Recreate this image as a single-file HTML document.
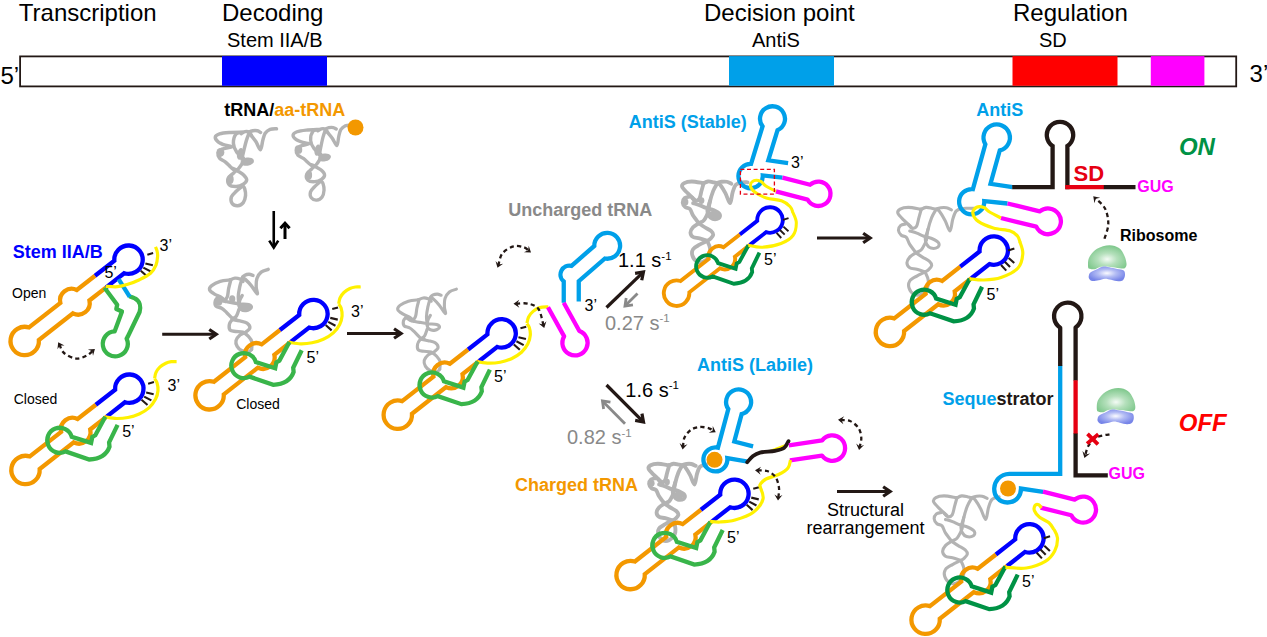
<!DOCTYPE html><html><head><meta charset="utf-8"><style>html,body{margin:0;padding:0;background:#fff}svg{display:block}</style></head><body><svg width="1267" height="637" viewBox="0 0 1267 637" font-family="Liberation Sans, sans-serif">
<rect width="1267" height="637" fill="#fff"/>
<rect x="20.1" y="56.4" width="1216.1" height="30" fill="#fff" stroke="#231815" stroke-width="1.8"/>
<rect x="222" y="56.1" width="105" height="29.7" fill="#0000ff"/>
<rect x="729" y="56.1" width="105" height="29.7" fill="#00a0e9"/>
<rect x="1012.5" y="56.1" width="105" height="29.7" fill="#ff0000"/>
<rect x="1150.8" y="56.1" width="53.6" height="29.7" fill="#ff00ff"/>
<text x="18.8" y="21.2" font-size="24" fill="#000" font-weight="normal" font-style="normal" text-anchor="start" >Transcription</text>
<text x="222" y="21" font-size="24" fill="#000" font-weight="normal" font-style="normal" text-anchor="start" >Decoding</text>
<text x="227" y="47" font-size="20" fill="#000" font-weight="normal" font-style="normal" text-anchor="start" >Stem IIA/B</text>
<text x="704" y="21" font-size="24" fill="#000" font-weight="normal" font-style="normal" text-anchor="start" >Decision point</text>
<text x="752" y="47" font-size="20" fill="#000" font-weight="normal" font-style="normal" text-anchor="start" >AntiS</text>
<text x="1013" y="21" font-size="24" fill="#000" font-weight="normal" font-style="normal" text-anchor="start" >Regulation</text>
<text x="1039" y="47" font-size="20" fill="#000" font-weight="normal" font-style="normal" text-anchor="start" >SD</text>
<text x="0.5" y="84" font-size="24" fill="#000" font-weight="normal" font-style="normal" text-anchor="start" >5’</text>
<text x="1249.6" y="82.3" font-size="24" fill="#000" font-weight="normal" font-style="normal" text-anchor="start" >3’</text>
<g transform="translate(276.5 128.8) rotate(0) scale(1) translate(-68.55 -6.78)">
<g fill="none" stroke="#b3b3b3" stroke-width="3.5" stroke-linecap="round" stroke-linejoin="round">
<path d="M68.55 6.78 C67.49 6.88 64.08 6.6 62.19 7.35 C60.31 8.1 58.47 9.47 57.24 11.31 C56.02 13.14 55.62 15.64 54.84 18.37 C54.06 21.11 53.71 27.47 52.58 27.7 C51.45 27.94 49.56 22.1 48.06 19.79 C46.55 17.48 44.71 15.36 43.53 13.85 C42.36 12.34 40.75 11.59 40.99 10.74 C41.22 9.89 43.53 9.09 44.95 8.76 C46.36 8.43 48.2 8.48 49.47 8.76 C50.74 9.05 52.06 10.18 52.58 10.46"/>
<path d="M41.27 10.74 C40.8 12.01 39.34 15.45 38.45 18.37 C37.55 21.3 36.65 25.16 35.9 28.27 C35.15 31.38 34.25 35.57 33.92 37.03"/>
<path d="M33.36 11.59 C33.97 11.26 35.71 9.85 37.03 9.61 C38.35 9.38 40.19 9.52 41.27 10.18 C42.36 10.84 43.16 13 43.53 13.57"/>
<path d="M34.77 10.46 C33.69 10.69 29.82 10.08 28.27 11.87 C26.71 13.66 25.35 18.14 25.44 21.2 C25.54 24.26 27.14 27.75 28.83 30.25 C30.53 32.74 34.49 35.19 35.62 36.18"/>
<path d="M34.77 10.18 C32.51 10.22 25.06 10.18 21.2 10.46 C17.34 10.74 13.9 11.12 11.59 11.87 C9.28 12.63 7.59 13.66 7.35 14.98 C7.11 16.3 8.53 18.42 10.18 19.79 C11.83 21.15 14.98 22.33 17.24 23.18 C19.51 24.03 24.26 24.22 23.75 24.88 C23.23 25.54 16.4 26.1 14.13 27.14 C11.87 28.17 10.6 29.59 10.18 31.1 C9.75 32.6 10.41 34.72 11.59 36.18 C12.77 37.64 15.41 38.4 17.24 39.86 C19.08 41.32 20.97 43.44 22.61 44.95 C24.26 46.45 26.38 48.24 27.14 48.9"/>
<path d="M34.49 41.27 C33.83 42.17 32.04 44.99 30.53 46.64 C29.02 48.29 27.18 49.52 25.44 51.17 C23.7 52.82 20.78 54.61 20.07 56.54 C19.36 58.47 19.84 61.44 21.2 62.76 C22.57 64.08 25.91 64.55 28.27 64.45 C30.62 64.36 33.59 63.27 35.34 62.19 C37.08 61.11 38.63 59.46 38.73 57.95 C38.82 56.44 37.27 54.56 35.9 53.14 C34.53 51.73 32.23 50.55 30.53 49.47 C28.83 48.39 26.53 47.11 25.72 46.64"/>
<path d="M34.77 63.89 C33.69 64.78 30.15 67.42 28.27 69.26 C26.38 71.1 24.17 72.93 23.46 74.91 C22.76 76.89 22.99 79.67 24.03 81.13 C25.06 82.59 27.8 83.77 29.68 83.67 C31.57 83.58 34.02 82.26 35.34 80.57 C36.65 78.87 37.36 75.81 37.6 73.5 C37.83 71.19 37.22 68.32 36.75 66.71 C36.28 65.11 35.1 64.36 34.77 63.89"/>
</g>
<ellipse cx="39.29" cy="39.58" rx="6.78" ry="4.1" fill="#b3b3b3" transform="rotate(-8 39.29 39.58)"/>
<ellipse cx="22.61" cy="57.24" rx="3.11" ry="4.81" fill="#b3b3b3"/>
<ellipse cx="12.44" cy="30.39" rx="3.96" ry="4.52" fill="#b3b3b3"/>
<ellipse cx="32.23" cy="31.8" rx="3.11" ry="5.94" fill="#b3b3b3" transform="rotate(12 32.23 31.8)"/>
</g>
<g transform="translate(351.5 125) rotate(-2) scale(0.96) translate(-68.55 -6.78)">
<g fill="none" stroke="#b3b3b3" stroke-width="3.5" stroke-linecap="round" stroke-linejoin="round">
<path d="M68.55 6.78 C67.49 6.88 64.08 6.6 62.19 7.35 C60.31 8.1 58.47 9.47 57.24 11.31 C56.02 13.14 55.62 15.64 54.84 18.37 C54.06 21.11 53.71 27.47 52.58 27.7 C51.45 27.94 49.56 22.1 48.06 19.79 C46.55 17.48 44.71 15.36 43.53 13.85 C42.36 12.34 40.75 11.59 40.99 10.74 C41.22 9.89 43.53 9.09 44.95 8.76 C46.36 8.43 48.2 8.48 49.47 8.76 C50.74 9.05 52.06 10.18 52.58 10.46"/>
<path d="M41.27 10.74 C40.8 12.01 39.34 15.45 38.45 18.37 C37.55 21.3 36.65 25.16 35.9 28.27 C35.15 31.38 34.25 35.57 33.92 37.03"/>
<path d="M33.36 11.59 C33.97 11.26 35.71 9.85 37.03 9.61 C38.35 9.38 40.19 9.52 41.27 10.18 C42.36 10.84 43.16 13 43.53 13.57"/>
<path d="M34.77 10.46 C33.69 10.69 29.82 10.08 28.27 11.87 C26.71 13.66 25.35 18.14 25.44 21.2 C25.54 24.26 27.14 27.75 28.83 30.25 C30.53 32.74 34.49 35.19 35.62 36.18"/>
<path d="M34.77 10.18 C32.51 10.22 25.06 10.18 21.2 10.46 C17.34 10.74 13.9 11.12 11.59 11.87 C9.28 12.63 7.59 13.66 7.35 14.98 C7.11 16.3 8.53 18.42 10.18 19.79 C11.83 21.15 14.98 22.33 17.24 23.18 C19.51 24.03 24.26 24.22 23.75 24.88 C23.23 25.54 16.4 26.1 14.13 27.14 C11.87 28.17 10.6 29.59 10.18 31.1 C9.75 32.6 10.41 34.72 11.59 36.18 C12.77 37.64 15.41 38.4 17.24 39.86 C19.08 41.32 20.97 43.44 22.61 44.95 C24.26 46.45 26.38 48.24 27.14 48.9"/>
<path d="M34.49 41.27 C33.83 42.17 32.04 44.99 30.53 46.64 C29.02 48.29 27.18 49.52 25.44 51.17 C23.7 52.82 20.78 54.61 20.07 56.54 C19.36 58.47 19.84 61.44 21.2 62.76 C22.57 64.08 25.91 64.55 28.27 64.45 C30.62 64.36 33.59 63.27 35.34 62.19 C37.08 61.11 38.63 59.46 38.73 57.95 C38.82 56.44 37.27 54.56 35.9 53.14 C34.53 51.73 32.23 50.55 30.53 49.47 C28.83 48.39 26.53 47.11 25.72 46.64"/>
<path d="M34.77 63.89 C33.69 64.78 30.15 67.42 28.27 69.26 C26.38 71.1 24.17 72.93 23.46 74.91 C22.76 76.89 22.99 79.67 24.03 81.13 C25.06 82.59 27.8 83.77 29.68 83.67 C31.57 83.58 34.02 82.26 35.34 80.57 C36.65 78.87 37.36 75.81 37.6 73.5 C37.83 71.19 37.22 68.32 36.75 66.71 C36.28 65.11 35.1 64.36 34.77 63.89"/>
</g>
<ellipse cx="39.29" cy="39.58" rx="6.78" ry="4.1" fill="#b3b3b3" transform="rotate(-8 39.29 39.58)"/>
<ellipse cx="22.61" cy="57.24" rx="3.11" ry="4.81" fill="#b3b3b3"/>
<ellipse cx="12.44" cy="30.39" rx="3.96" ry="4.52" fill="#b3b3b3"/>
<ellipse cx="32.23" cy="31.8" rx="3.11" ry="5.94" fill="#b3b3b3" transform="rotate(12 32.23 31.8)"/>
</g>
<circle cx="355.5" cy="127.5" r="8" fill="#f39800"/>
<g transform="translate(257.2 293.8) rotate(0) scale(1) translate(-55.37 -33.62)">
<g fill="none" stroke="#b3b3b3" stroke-width="3.4" stroke-linecap="round" stroke-linejoin="round">
<path d="M66.38 9.18 C65.21 9.65 61.21 10.48 59.32 12.01 C57.44 13.54 55.91 15.89 55.08 18.36 C54.26 20.83 54.33 24.29 54.38 26.84 C54.43 29.38 56.19 33.85 55.37 33.62 C54.54 33.38 51.41 27.82 49.44 25.42 C47.46 23.02 44.99 20.53 43.5 19.21 C42.02 17.89 40.61 18.22 40.54 17.51 C40.47 16.81 41.95 15.54 43.08 14.97 C44.21 14.41 45.97 14.08 47.32 14.12 C48.66 14.17 50.49 15.07 51.13 15.25"/>
<path d="M40.54 17.51 C40.09 19.07 38.54 23.63 37.85 26.84 C37.17 30.04 36.51 33.66 36.44 36.72 C36.37 39.78 37.26 43.79 37.43 45.2"/>
<path d="M28.25 19.77 C29.07 19.47 31.54 18.1 33.19 17.94 C34.84 17.77 36.79 18.24 38.14 18.79 C39.48 19.33 40.73 20.79 41.24 21.19"/>
<path d="M28.95 19.77 C28.6 21.19 27.42 25.42 26.84 28.25 C26.25 31.07 26.32 34.6 25.42 36.72 C24.53 38.84 22.88 40.73 21.47 40.96 C20.06 41.2 17.7 38.61 16.95 38.14"/>
<path d="M28.53 19.77 C26.84 20.01 21.47 20.24 18.36 21.19 C15.25 22.13 11.65 24.01 9.89 25.42 C8.12 26.84 7.3 28.25 7.77 29.66 C8.24 31.07 10.71 32.6 12.71 33.9 C14.71 35.19 17.94 36.21 19.77 37.43 C21.61 38.65 23.07 40.61 23.73 41.24"/>
<path d="M16.24 36.72 C15.77 37.43 13.77 39.43 13.42 40.96 C13.06 42.49 13.06 44.73 14.12 45.9 C15.18 47.08 18.01 46.96 19.77 48.02 C21.54 49.08 22.95 50.61 24.72 52.26 C26.48 53.91 28.79 56.73 30.37 57.91 C31.94 59.09 33.55 59.09 34.18 59.32"/>
<path d="M22.6 40.96 C23.78 41.2 27.07 41.9 29.66 42.37 C32.25 42.84 35.31 43.43 38.14 43.79 C40.96 44.14 44.73 43.9 46.61 44.49 C48.49 45.08 49.67 46.37 49.44 47.32 C49.2 48.26 46.85 49.79 45.2 50.14 C43.55 50.49 40.91 50.26 39.55 49.44 C38.18 48.61 37.24 46.85 37.01 45.2 C36.77 43.55 37.57 41.2 38.14 39.55 C38.7 37.9 40.02 36.02 40.4 35.31"/>
<path d="M37.01 49.44 C36.61 50.49 35.71 54.14 34.6 55.79 C33.5 57.44 31.54 57.91 30.37 59.32 C29.19 60.73 27.9 62.5 27.54 64.27 C27.19 66.03 27.19 68.74 28.25 69.92 C29.31 71.09 31.78 70.97 33.9 71.33 C36.02 71.68 38.84 71.21 40.96 72.03 C43.08 72.86 45.08 74.62 46.61 76.27 C48.14 77.92 49.62 79.76 50.14 81.92 C50.66 84.09 49.79 88.04 49.72 89.27"/>
<path d="M30.37 59.32 C31.66 59.56 35.66 60.15 38.14 60.73 C40.61 61.32 43.55 61.68 45.2 62.85 C46.85 64.03 48.26 66.27 48.02 67.8 C47.79 69.33 45.43 70.86 43.79 72.03 C42.14 73.21 39.74 73.45 38.14 74.86 C36.53 76.27 34.65 78.63 34.18 80.51 C33.71 82.39 34.37 84.51 35.31 86.16 C36.25 87.81 37.95 89.45 39.83 90.4 C41.71 91.34 44.96 92 46.61 91.81 C48.26 91.62 49.2 89.69 49.72 89.27"/>
</g>
<ellipse cx="43.5" cy="47.18" rx="7.06" ry="4.24" fill="#b3b3b3" transform="rotate(-5 43.5 47.18)"/>
<ellipse cx="16.67" cy="41.38" rx="3.95" ry="4.24" fill="#b3b3b3"/>
<ellipse cx="30.37" cy="38.84" rx="3.11" ry="3.67" fill="#b3b3b3"/>
</g>
<g transform="translate(445.4 313.6) rotate(0) scale(1) translate(-55.37 -33.62)">
<g fill="none" stroke="#b3b3b3" stroke-width="3.1" stroke-linecap="round" stroke-linejoin="round">
<path d="M66.38 9.18 C65.21 9.65 61.21 10.48 59.32 12.01 C57.44 13.54 55.91 15.89 55.08 18.36 C54.26 20.83 54.33 24.29 54.38 26.84 C54.43 29.38 56.19 33.85 55.37 33.62 C54.54 33.38 51.41 27.82 49.44 25.42 C47.46 23.02 44.99 20.53 43.5 19.21 C42.02 17.89 40.61 18.22 40.54 17.51 C40.47 16.81 41.95 15.54 43.08 14.97 C44.21 14.41 45.97 14.08 47.32 14.12 C48.66 14.17 50.49 15.07 51.13 15.25"/>
<path d="M40.54 17.51 C40.09 19.07 38.54 23.63 37.85 26.84 C37.17 30.04 36.51 33.66 36.44 36.72 C36.37 39.78 37.26 43.79 37.43 45.2"/>
<path d="M28.25 19.77 C29.07 19.47 31.54 18.1 33.19 17.94 C34.84 17.77 36.79 18.24 38.14 18.79 C39.48 19.33 40.73 20.79 41.24 21.19"/>
<path d="M28.95 19.77 C28.6 21.19 27.42 25.42 26.84 28.25 C26.25 31.07 26.32 34.6 25.42 36.72 C24.53 38.84 22.88 40.73 21.47 40.96 C20.06 41.2 17.7 38.61 16.95 38.14"/>
<path d="M28.53 19.77 C26.84 20.01 21.47 20.24 18.36 21.19 C15.25 22.13 11.65 24.01 9.89 25.42 C8.12 26.84 7.3 28.25 7.77 29.66 C8.24 31.07 10.71 32.6 12.71 33.9 C14.71 35.19 17.94 36.21 19.77 37.43 C21.61 38.65 23.07 40.61 23.73 41.24"/>
<path d="M16.24 36.72 C15.77 37.43 13.77 39.43 13.42 40.96 C13.06 42.49 13.06 44.73 14.12 45.9 C15.18 47.08 18.01 46.96 19.77 48.02 C21.54 49.08 22.95 50.61 24.72 52.26 C26.48 53.91 28.79 56.73 30.37 57.91 C31.94 59.09 33.55 59.09 34.18 59.32"/>
<path d="M22.6 40.96 C23.78 41.2 27.07 41.9 29.66 42.37 C32.25 42.84 35.31 43.43 38.14 43.79 C40.96 44.14 44.73 43.9 46.61 44.49 C48.49 45.08 49.67 46.37 49.44 47.32 C49.2 48.26 46.85 49.79 45.2 50.14 C43.55 50.49 40.91 50.26 39.55 49.44 C38.18 48.61 37.24 46.85 37.01 45.2 C36.77 43.55 37.57 41.2 38.14 39.55 C38.7 37.9 40.02 36.02 40.4 35.31"/>
<path d="M37.01 49.44 C36.61 50.49 35.71 54.14 34.6 55.79 C33.5 57.44 31.54 57.91 30.37 59.32 C29.19 60.73 27.9 62.5 27.54 64.27 C27.19 66.03 27.19 68.74 28.25 69.92 C29.31 71.09 31.78 70.97 33.9 71.33 C36.02 71.68 38.84 71.21 40.96 72.03 C43.08 72.86 45.08 74.62 46.61 76.27 C48.14 77.92 49.62 79.76 50.14 81.92 C50.66 84.09 49.79 88.04 49.72 89.27"/>
<path d="M30.37 59.32 C31.66 59.56 35.66 60.15 38.14 60.73 C40.61 61.32 43.55 61.68 45.2 62.85 C46.85 64.03 48.26 66.27 48.02 67.8 C47.79 69.33 45.43 70.86 43.79 72.03 C42.14 73.21 39.74 73.45 38.14 74.86 C36.53 76.27 34.65 78.63 34.18 80.51 C33.71 82.39 34.37 84.51 35.31 86.16 C36.25 87.81 37.95 89.45 39.83 90.4 C41.71 91.34 44.96 92 46.61 91.81 C48.26 91.62 49.2 89.69 49.72 89.27"/>
</g>
</g>
<g transform="translate(730.1 203.2) rotate(0) scale(0.92) translate(-60.03 -36.02)">
<g fill="none" stroke="#b3b3b3" stroke-width="4.13" stroke-linecap="round" stroke-linejoin="round">
<path d="M79.1 13.28 C78.15 13.3 75.56 12.99 73.45 13.42 C71.33 13.84 68.15 14.05 66.38 15.82 C64.62 17.58 63.91 20.65 62.85 24.01 C61.79 27.38 61.32 35.78 60.03 36.02 C58.73 36.25 56.85 28.72 55.08 25.42 C53.32 22.13 50.89 18.13 49.44 16.24 C47.98 14.36 46.09 14.71 46.33 14.12 C46.56 13.54 49.15 12.95 50.85 12.71 C52.54 12.48 54.73 12.36 56.5 12.71 C58.26 13.06 60.62 14.48 61.44 14.83"/>
<path d="M46.33 14.12 C45.55 15.54 43.08 19.07 41.67 22.6 C40.25 26.13 38.72 31.54 37.85 35.31 C36.98 39.08 36.68 43.55 36.44 45.2"/>
<path d="M30.37 14.83 C31.31 14.43 34.02 12.66 36.02 12.43 C38.02 12.19 40.65 13.09 42.37 13.42 C44.09 13.75 45.67 14.24 46.33 14.41"/>
<path d="M31.36 14.12 C30.96 15.54 29.76 19.73 28.95 22.6 C28.15 25.47 27.73 29.57 26.55 31.36 C25.38 33.15 23.21 33.57 21.89 33.33 C20.57 33.1 19.19 30.51 18.64 29.94"/>
<path d="M30.37 14.12 C28.37 13.84 21.73 12.43 18.36 12.43 C15 12.43 11.91 13.14 10.17 14.12 C8.43 15.11 7.25 16.48 7.91 18.36 C8.57 20.24 11.91 23.16 14.12 25.42 C16.34 27.68 20.01 30.84 21.19 31.92"/>
<path d="M15.82 28.95 C14.97 29.19 11.96 29.31 10.73 30.37 C9.51 31.43 8.38 33.66 8.47 35.31 C8.57 36.96 9.98 39.08 11.3 40.25 C12.62 41.43 14.97 40.84 16.38 42.37 C17.8 43.9 18.15 46.85 19.77 49.44 C21.4 52.02 25.07 56.5 26.13 57.91"/>
<path d="M19.77 36.02 C20.95 36.37 24.48 37.26 26.84 38.14 C29.19 39.01 31.31 40.3 33.9 41.24 C36.49 42.18 39.9 42.66 42.37 43.79 C44.84 44.92 47.83 46.61 48.73 48.02 C49.62 49.44 49.03 51.41 47.74 52.26 C46.45 53.11 42.8 53.58 40.96 53.11 C39.12 52.64 37.66 50.99 36.72 49.44 C35.78 47.88 35.26 45.72 35.31 43.79 C35.36 41.85 36.53 39.5 37.01 37.85 C37.48 36.21 37.95 34.56 38.14 33.9"/>
<path d="M35.31 48.02 C34.65 49.15 32.96 53.15 31.36 54.8 C29.76 56.45 27.64 56.69 25.71 57.91 C23.78 59.13 21.23 60.5 19.77 62.15 C18.31 63.79 16.95 66.03 16.95 67.8 C16.95 69.56 18.13 71.66 19.77 72.74 C21.42 73.82 24.25 73.59 26.84 74.29 C29.43 75 33.9 76.53 35.31 76.98"/>
<path d="M26.13 57.91 C27.19 58.62 30.25 60.73 32.49 62.15 C34.72 63.56 38.02 64.97 39.55 66.38 C41.08 67.8 41.85 69.21 41.67 70.62 C41.48 72.03 39.48 73.8 38.42 74.86 C37.36 75.92 37.24 75.94 35.31 76.98 C33.38 78.01 29.43 79.57 26.84 81.07 C24.25 82.58 21.07 84.02 19.77 86.02 C18.48 88.02 18.36 90.84 19.07 93.08 C19.77 95.32 22.01 98.38 24.01 99.44 C26.01 100.49 28.84 100.49 31.07 99.44 C33.31 98.38 36.25 95.55 37.43 93.08 C38.61 90.61 38.49 87.22 38.14 84.6 C37.78 81.99 35.78 78.6 35.31 77.4"/>
</g>
<ellipse cx="42.37" cy="48.31" rx="6.5" ry="4.24" fill="#b3b3b3" transform="rotate(-8 42.37 48.31)"/>
<ellipse cx="11.3" cy="34.6" rx="3.39" ry="3.95" fill="#b3b3b3"/>
<ellipse cx="28.95" cy="33.19" rx="3.11" ry="3.67" fill="#b3b3b3"/>
</g>
<g transform="translate(950 231) rotate(0) scale(1) translate(-60.03 -36.02)">
<g fill="none" stroke="#b3b3b3" stroke-width="3.1" stroke-linecap="round" stroke-linejoin="round">
<path d="M84.75 13.42 C83.8 13.39 80.98 13.28 79.1 13.28 C77.21 13.28 75.56 12.99 73.45 13.42 C71.33 13.84 68.15 14.05 66.38 15.82 C64.62 17.58 63.91 20.65 62.85 24.01 C61.79 27.38 61.32 35.78 60.03 36.02 C58.73 36.25 56.85 28.72 55.08 25.42 C53.32 22.13 50.89 18.13 49.44 16.24 C47.98 14.36 46.09 14.71 46.33 14.12 C46.56 13.54 49.15 12.95 50.85 12.71 C52.54 12.48 54.73 12.36 56.5 12.71 C58.26 13.06 60.62 14.48 61.44 14.83"/>
<path d="M46.33 14.12 C45.55 15.54 43.08 19.07 41.67 22.6 C40.25 26.13 38.72 31.54 37.85 35.31 C36.98 39.08 36.68 43.55 36.44 45.2"/>
<path d="M30.37 14.83 C31.31 14.43 34.02 12.66 36.02 12.43 C38.02 12.19 40.65 13.09 42.37 13.42 C44.09 13.75 45.67 14.24 46.33 14.41"/>
<path d="M31.36 14.12 C30.96 15.54 29.76 19.73 28.95 22.6 C28.15 25.47 27.73 29.57 26.55 31.36 C25.38 33.15 23.21 33.57 21.89 33.33 C20.57 33.1 19.19 30.51 18.64 29.94"/>
<path d="M30.37 14.12 C28.37 13.84 21.73 12.43 18.36 12.43 C15 12.43 11.91 13.14 10.17 14.12 C8.43 15.11 7.25 16.48 7.91 18.36 C8.57 20.24 11.91 23.16 14.12 25.42 C16.34 27.68 20.01 30.84 21.19 31.92"/>
<path d="M15.82 28.95 C14.97 29.19 11.96 29.31 10.73 30.37 C9.51 31.43 8.38 33.66 8.47 35.31 C8.57 36.96 9.98 39.08 11.3 40.25 C12.62 41.43 14.97 40.84 16.38 42.37 C17.8 43.9 18.15 46.85 19.77 49.44 C21.4 52.02 25.07 56.5 26.13 57.91"/>
<path d="M19.77 36.02 C20.95 36.37 24.48 37.26 26.84 38.14 C29.19 39.01 31.31 40.3 33.9 41.24 C36.49 42.18 39.9 42.66 42.37 43.79 C44.84 44.92 47.83 46.61 48.73 48.02 C49.62 49.44 49.03 51.41 47.74 52.26 C46.45 53.11 42.8 53.58 40.96 53.11 C39.12 52.64 37.66 50.99 36.72 49.44 C35.78 47.88 35.26 45.72 35.31 43.79 C35.36 41.85 36.53 39.5 37.01 37.85 C37.48 36.21 37.95 34.56 38.14 33.9"/>
<path d="M35.31 48.02 C34.65 49.15 32.96 53.15 31.36 54.8 C29.76 56.45 27.64 56.69 25.71 57.91 C23.78 59.13 21.23 60.5 19.77 62.15 C18.31 63.79 16.95 66.03 16.95 67.8 C16.95 69.56 18.13 71.66 19.77 72.74 C21.42 73.82 24.25 73.59 26.84 74.29 C29.43 75 33.9 76.53 35.31 76.98"/>
<path d="M26.13 57.91 C27.19 58.62 30.25 60.73 32.49 62.15 C34.72 63.56 38.02 64.97 39.55 66.38 C41.08 67.8 41.85 69.21 41.67 70.62 C41.48 72.03 39.48 73.8 38.42 74.86 C37.36 75.92 37.24 75.94 35.31 76.98 C33.38 78.01 29.43 79.57 26.84 81.07 C24.25 82.58 21.07 84.02 19.77 86.02 C18.48 88.02 18.36 90.84 19.07 93.08 C19.77 95.32 22.01 98.38 24.01 99.44 C26.01 100.49 28.84 100.49 31.07 99.44 C33.31 98.38 36.25 95.55 37.43 93.08 C38.61 90.61 38.49 87.22 38.14 84.6 C37.78 81.99 35.78 78.6 35.31 77.4"/>
</g>
</g>
<g transform="translate(694.5 484.5) rotate(0) scale(0.88) translate(-60.03 -36.02)">
<g fill="none" stroke="#b3b3b3" stroke-width="4.43" stroke-linecap="round" stroke-linejoin="round">
<path d="M73.45 13.42 C72.27 13.82 68.15 14.05 66.38 15.82 C64.62 17.58 63.91 20.65 62.85 24.01 C61.79 27.38 61.32 35.78 60.03 36.02 C58.73 36.25 56.85 28.72 55.08 25.42 C53.32 22.13 50.89 18.13 49.44 16.24 C47.98 14.36 46.09 14.71 46.33 14.12 C46.56 13.54 49.15 12.95 50.85 12.71 C52.54 12.48 54.73 12.36 56.5 12.71 C58.26 13.06 60.62 14.48 61.44 14.83"/>
<path d="M46.33 14.12 C45.55 15.54 43.08 19.07 41.67 22.6 C40.25 26.13 38.72 31.54 37.85 35.31 C36.98 39.08 36.68 43.55 36.44 45.2"/>
<path d="M30.37 14.83 C31.31 14.43 34.02 12.66 36.02 12.43 C38.02 12.19 40.65 13.09 42.37 13.42 C44.09 13.75 45.67 14.24 46.33 14.41"/>
<path d="M31.36 14.12 C30.96 15.54 29.76 19.73 28.95 22.6 C28.15 25.47 27.73 29.57 26.55 31.36 C25.38 33.15 23.21 33.57 21.89 33.33 C20.57 33.1 19.19 30.51 18.64 29.94"/>
<path d="M30.37 14.12 C28.37 13.84 21.73 12.43 18.36 12.43 C15 12.43 11.91 13.14 10.17 14.12 C8.43 15.11 7.25 16.48 7.91 18.36 C8.57 20.24 11.91 23.16 14.12 25.42 C16.34 27.68 20.01 30.84 21.19 31.92"/>
<path d="M15.82 28.95 C14.97 29.19 11.96 29.31 10.73 30.37 C9.51 31.43 8.38 33.66 8.47 35.31 C8.57 36.96 9.98 39.08 11.3 40.25 C12.62 41.43 14.97 40.84 16.38 42.37 C17.8 43.9 18.15 46.85 19.77 49.44 C21.4 52.02 25.07 56.5 26.13 57.91"/>
<path d="M19.77 36.02 C20.95 36.37 24.48 37.26 26.84 38.14 C29.19 39.01 31.31 40.3 33.9 41.24 C36.49 42.18 39.9 42.66 42.37 43.79 C44.84 44.92 47.83 46.61 48.73 48.02 C49.62 49.44 49.03 51.41 47.74 52.26 C46.45 53.11 42.8 53.58 40.96 53.11 C39.12 52.64 37.66 50.99 36.72 49.44 C35.78 47.88 35.26 45.72 35.31 43.79 C35.36 41.85 36.53 39.5 37.01 37.85 C37.48 36.21 37.95 34.56 38.14 33.9"/>
<path d="M35.31 48.02 C34.65 49.15 32.96 53.15 31.36 54.8 C29.76 56.45 27.64 56.69 25.71 57.91 C23.78 59.13 21.23 60.5 19.77 62.15 C18.31 63.79 16.95 66.03 16.95 67.8 C16.95 69.56 18.13 71.66 19.77 72.74 C21.42 73.82 24.25 73.59 26.84 74.29 C29.43 75 33.9 76.53 35.31 76.98"/>
<path d="M26.13 57.91 C27.19 58.62 30.25 60.73 32.49 62.15 C34.72 63.56 38.02 64.97 39.55 66.38 C41.08 67.8 41.85 69.21 41.67 70.62 C41.48 72.03 39.48 73.8 38.42 74.86 C37.36 75.92 37.24 75.94 35.31 76.98 C33.38 78.01 29.43 79.57 26.84 81.07 C24.25 82.58 21.07 84.02 19.77 86.02 C18.48 88.02 18.36 90.84 19.07 93.08 C19.77 95.32 22.01 98.38 24.01 99.44 C26.01 100.49 28.84 100.49 31.07 99.44 C33.31 98.38 36.25 95.55 37.43 93.08 C38.61 90.61 38.49 87.22 38.14 84.6 C37.78 81.99 35.78 78.6 35.31 77.4"/>
</g>
<ellipse cx="42.37" cy="48.31" rx="6.5" ry="4.24" fill="#b3b3b3" transform="rotate(-8 42.37 48.31)"/>
<ellipse cx="11.3" cy="34.6" rx="3.39" ry="3.95" fill="#b3b3b3"/>
<ellipse cx="28.95" cy="33.19" rx="3.11" ry="3.67" fill="#b3b3b3"/>
</g>
<g transform="translate(985.7 519.5) rotate(0) scale(1) translate(-60.03 -36.02)">
<g fill="none" stroke="#b3b3b3" stroke-width="3.1" stroke-linecap="round" stroke-linejoin="round">
<path d="M73.45 13.42 C72.27 13.82 68.15 14.05 66.38 15.82 C64.62 17.58 63.91 20.65 62.85 24.01 C61.79 27.38 61.32 35.78 60.03 36.02 C58.73 36.25 56.85 28.72 55.08 25.42 C53.32 22.13 50.89 18.13 49.44 16.24 C47.98 14.36 46.09 14.71 46.33 14.12 C46.56 13.54 49.15 12.95 50.85 12.71 C52.54 12.48 54.73 12.36 56.5 12.71 C58.26 13.06 60.62 14.48 61.44 14.83"/>
<path d="M46.33 14.12 C45.55 15.54 43.08 19.07 41.67 22.6 C40.25 26.13 38.72 31.54 37.85 35.31 C36.98 39.08 36.68 43.55 36.44 45.2"/>
<path d="M30.37 14.83 C31.31 14.43 34.02 12.66 36.02 12.43 C38.02 12.19 40.65 13.09 42.37 13.42 C44.09 13.75 45.67 14.24 46.33 14.41"/>
<path d="M31.36 14.12 C30.96 15.54 29.76 19.73 28.95 22.6 C28.15 25.47 27.73 29.57 26.55 31.36 C25.38 33.15 23.21 33.57 21.89 33.33 C20.57 33.1 19.19 30.51 18.64 29.94"/>
<path d="M30.37 14.12 C28.37 13.84 21.73 12.43 18.36 12.43 C15 12.43 11.91 13.14 10.17 14.12 C8.43 15.11 7.25 16.48 7.91 18.36 C8.57 20.24 11.91 23.16 14.12 25.42 C16.34 27.68 20.01 30.84 21.19 31.92"/>
<path d="M15.82 28.95 C14.97 29.19 11.96 29.31 10.73 30.37 C9.51 31.43 8.38 33.66 8.47 35.31 C8.57 36.96 9.98 39.08 11.3 40.25 C12.62 41.43 14.97 40.84 16.38 42.37 C17.8 43.9 18.15 46.85 19.77 49.44 C21.4 52.02 25.07 56.5 26.13 57.91"/>
<path d="M19.77 36.02 C20.95 36.37 24.48 37.26 26.84 38.14 C29.19 39.01 31.31 40.3 33.9 41.24 C36.49 42.18 39.9 42.66 42.37 43.79 C44.84 44.92 47.83 46.61 48.73 48.02 C49.62 49.44 49.03 51.41 47.74 52.26 C46.45 53.11 42.8 53.58 40.96 53.11 C39.12 52.64 37.66 50.99 36.72 49.44 C35.78 47.88 35.26 45.72 35.31 43.79 C35.36 41.85 36.53 39.5 37.01 37.85 C37.48 36.21 37.95 34.56 38.14 33.9"/>
<path d="M35.31 48.02 C34.65 49.15 32.96 53.15 31.36 54.8 C29.76 56.45 27.64 56.69 25.71 57.91 C23.78 59.13 21.23 60.5 19.77 62.15 C18.31 63.79 16.95 66.03 16.95 67.8 C16.95 69.56 18.13 71.66 19.77 72.74 C21.42 73.82 24.25 73.59 26.84 74.29 C29.43 75 33.9 76.53 35.31 76.98"/>
<path d="M26.13 57.91 C27.19 58.62 30.25 60.73 32.49 62.15 C34.72 63.56 38.02 64.97 39.55 66.38 C41.08 67.8 41.85 69.21 41.67 70.62 C41.48 72.03 39.48 73.8 38.42 74.86 C37.36 75.92 37.24 75.94 35.31 76.98 C33.38 78.01 29.43 79.57 26.84 81.07 C24.25 82.58 21.07 84.02 19.77 86.02 C18.48 88.02 18.36 90.84 19.07 93.08 C19.77 95.32 22.01 98.38 24.01 99.44 C26.01 100.49 28.84 100.49 31.07 99.44 C33.31 98.38 36.25 95.55 37.43 93.08 C38.61 90.61 38.49 87.22 38.14 84.6 C37.78 81.99 35.78 78.6 35.31 77.4"/>
</g>
</g>
<g transform="translate(128.5 259.7) scale(1)" fill="none" stroke-width="4.3" stroke-linecap="butt" stroke-linejoin="round">
<path d="M-33.47 16.05 L-51.68 30.32 A11.6 11.6 0 0 0 -68.16 43.23 L-99.5 67.77 A14.2 14.2 0 1 0 -89.63 80.37 L-55.54 53.67 A11.6 11.6 0 0 0 -39.06 40.76 L-22.35 27.66" stroke="#f39800" stroke-linejoin="miter"/>
<path d="M-33.47 16.05 L-14.17 0.94 A14.2 14.2 0 1 1 -4.3 13.53 L-22.35 27.66" stroke="#0000ff" stroke-linejoin="miter"/>
<line x1="18.84" y1="-5.05" x2="24.63" y2="-6.6" stroke="#231815" stroke-width="2.1"/>
<line x1="16.86" y1="3.89" x2="24.36" y2="5.62" stroke="#231815" stroke-width="2.1"/>
<line x1="14.83" y1="7.89" x2="22.07" y2="11.74" stroke="#231815" stroke-width="2.1"/>
<line x1="12.26" y1="11.04" x2="18.21" y2="16.39" stroke="#231815" stroke-width="2.1"/>
<path d="M-24 28.1 L-11.3 45.1 L-12.2 49.3 L-6.5 51.8 L-13.9 71.7 A12.5 12.5 0 1 0 -1.9 78.9 L-0.9 77.3 L11.1 52.3 C12.5 47.3 11.5 41.3 6.5 38.8 C4.5 37.6 2.5 37.1 0.8 36.6" stroke="#39b54a"/>
<path d="M-9.9 19.5 L1.3 37.1" stroke="#00a0e9"/>
<path d="M-22.7 26.6 C-20.75 26.67 -14.67 27.33 -11 27 C-7.33 26.67 -4.37 25.77 -0.7 24.6 C2.97 23.43 7.22 21.83 11 20 C14.78 18.17 19.25 16.02 22 13.6 C24.75 11.18 26.32 8.33 27.5 5.5 C28.68 2.67 28.92 -1.07 29.1 -3.4 C29.28 -5.73 28.95 -6.93 28.6 -8.5 C28.25 -10.07 27.27 -12.08 27 -12.8" stroke="#fff100" stroke-width="3.2"/>
</g>
<g transform="translate(129.3 388.7) scale(1)" fill="none" stroke-width="4.3" stroke-linecap="butt" stroke-linejoin="round">
<path d="M-33.47 16.05 L-51.68 30.32 A11.6 11.6 0 0 0 -68.16 43.23 L-99.5 67.77 A14.2 14.2 0 1 0 -89.63 80.37 L-55.54 53.67 A11.6 11.6 0 0 0 -39.06 40.76 L-22.35 27.66" stroke="#f39800" stroke-linejoin="miter"/>
<path d="M-33.47 16.05 L-14.17 0.94 A14.2 14.2 0 1 1 -4.3 13.53 L-22.35 27.66" stroke="#0000ff" stroke-linejoin="miter"/>
<line x1="18.84" y1="-5.05" x2="24.63" y2="-6.6" stroke="#231815" stroke-width="2.1"/>
<line x1="16.86" y1="3.89" x2="24.36" y2="5.62" stroke="#231815" stroke-width="2.1"/>
<line x1="14.83" y1="7.89" x2="22.07" y2="11.74" stroke="#231815" stroke-width="2.1"/>
<line x1="12.26" y1="11.04" x2="18.21" y2="16.39" stroke="#231815" stroke-width="2.1"/>
<path d="M-23.6 28.4 C-21.8 28.63 -16.5 29.73 -12.8 29.8 C-9.1 29.87 -5.18 29.55 -1.4 28.8 C2.38 28.05 6.35 26.95 9.9 25.3 C13.45 23.65 17.17 21.38 19.9 18.9 C22.63 16.42 24.83 13.25 26.3 10.4 C27.77 7.55 28.47 4.53 28.7 1.8 C28.93 -0.93 28.27 -4.07 27.7 -6 C27.13 -7.93 25.7 -9.17 25.3 -9.8" stroke="#fff100" stroke-width="3.2"/>
<path d="M25.3 -10.2 C25.52 -11.17 25.73 -14.12 26.6 -16 C27.47 -17.88 28.85 -19.92 30.5 -21.5 C32.15 -23.08 34.58 -24.58 36.5 -25.5 C38.42 -26.42 40.2 -26.75 42 -27 C43.8 -27.25 46.42 -27 47.3 -27" stroke="#fff100" stroke-width="3.2"/>
<path d="M-24 28.1 L-34 46.6 L-37 48.3 L-38.2 54.2 L-57.6 48 A12.5 12.5 0 1 0 -63.8 62.7 L-40.1 70.8 Q-24 70 -19.8 58 L-20.2 53.7 L-11.7 36.2" stroke="#39b54a" stroke-linejoin="miter"/>
</g>
<g transform="translate(313.4 314) scale(1)" fill="none" stroke-width="4.3" stroke-linecap="butt" stroke-linejoin="round">
<path d="M-33.47 16.05 L-51.68 30.32 A11.6 11.6 0 0 0 -68.16 43.23 L-99.5 67.77 A14.2 14.2 0 1 0 -89.63 80.37 L-55.54 53.67 A11.6 11.6 0 0 0 -39.06 40.76 L-22.35 27.66" stroke="#f39800" stroke-linejoin="miter"/>
<path d="M-33.47 16.05 L-14.17 0.94 A14.2 14.2 0 1 1 -4.3 13.53 L-22.35 27.66" stroke="#0000ff" stroke-linejoin="miter"/>
<line x1="18.84" y1="-5.05" x2="24.63" y2="-6.6" stroke="#231815" stroke-width="2.1"/>
<line x1="16.86" y1="3.89" x2="24.36" y2="5.62" stroke="#231815" stroke-width="2.1"/>
<line x1="14.83" y1="7.89" x2="22.07" y2="11.74" stroke="#231815" stroke-width="2.1"/>
<line x1="12.26" y1="11.04" x2="18.21" y2="16.39" stroke="#231815" stroke-width="2.1"/>
<path d="M-23.6 28.4 C-21.8 28.63 -16.5 29.73 -12.8 29.8 C-9.1 29.87 -5.18 29.55 -1.4 28.8 C2.38 28.05 6.35 26.95 9.9 25.3 C13.45 23.65 17.17 21.38 19.9 18.9 C22.63 16.42 24.83 13.25 26.3 10.4 C27.77 7.55 28.47 4.53 28.7 1.8 C28.93 -0.93 28.27 -4.07 27.7 -6 C27.13 -7.93 25.7 -9.17 25.3 -9.8" stroke="#fff100" stroke-width="3.2"/>
<path d="M25.3 -10.2 C25.52 -11.17 25.73 -14.12 26.6 -16 C27.47 -17.88 28.85 -19.92 30.5 -21.5 C32.15 -23.08 34.58 -24.58 36.5 -25.5 C38.42 -26.42 40.2 -26.75 42 -27 C43.8 -27.25 46.42 -27 47.3 -27" stroke="#fff100" stroke-width="3.2"/>
<path d="M-24 28.1 L-34 46.6 L-37 48.3 L-38.2 54.2 L-57.6 48 A12.5 12.5 0 1 0 -63.8 62.7 L-40.1 70.8 Q-24 70 -19.8 58 L-20.2 53.7 L-11.7 36.2" stroke="#39b54a" stroke-linejoin="miter"/>
</g>
<g transform="translate(501.6 333.4) scale(1)" fill="none" stroke-width="4.3" stroke-linecap="butt" stroke-linejoin="round">
<path d="M-33.47 16.05 L-51.68 30.32 A11.6 11.6 0 0 0 -68.16 43.23 L-99.5 67.77 A14.2 14.2 0 1 0 -89.63 80.37 L-55.54 53.67 A11.6 11.6 0 0 0 -39.06 40.76 L-22.35 27.66" stroke="#f39800" stroke-linejoin="miter"/>
<path d="M-33.47 16.05 L-14.17 0.94 A14.2 14.2 0 1 1 -4.3 13.53 L-22.35 27.66" stroke="#0000ff" stroke-linejoin="miter"/>
<line x1="18.84" y1="-5.05" x2="24.63" y2="-6.6" stroke="#231815" stroke-width="2.1"/>
<line x1="16.86" y1="3.89" x2="24.36" y2="5.62" stroke="#231815" stroke-width="2.1"/>
<line x1="14.83" y1="7.89" x2="22.07" y2="11.74" stroke="#231815" stroke-width="2.1"/>
<line x1="12.26" y1="11.04" x2="18.21" y2="16.39" stroke="#231815" stroke-width="2.1"/>
<path d="M-23.6 28.4 C-21.8 28.63 -16.5 29.73 -12.8 29.8 C-9.1 29.87 -5.18 29.55 -1.4 28.8 C2.38 28.05 6.35 26.95 9.9 25.3 C13.45 23.65 17.17 21.38 19.9 18.9 C22.63 16.42 24.83 13.25 26.3 10.4 C27.77 7.55 28.47 4.53 28.7 1.8 C28.93 -0.93 28.27 -4.07 27.7 -6 C27.13 -7.93 25.7 -9.17 25.3 -9.8" stroke="#fff100" stroke-width="3.2"/>
<path d="M25.3 -10.2 C25.58 -11.25 25.97 -14.53 27 -16.5 C28.03 -18.47 29.67 -20.45 31.5 -22 C33.33 -23.55 35.45 -25.03 38 -25.8 C40.55 -26.57 45.33 -26.47 46.8 -26.6" stroke="#fff100" stroke-width="3.2"/>
<path d="M-24 28.1 L-34 46.6 L-37 48.3 L-38.2 54.2 L-57.6 48 A12.5 12.5 0 1 0 -63.8 62.7 L-40.1 70.8 Q-24 70 -19.8 58 L-20.2 53.7 L-11.7 36.2" stroke="#39b54a" stroke-linejoin="miter"/>
</g>
<g transform="translate(770 220) scale(0.9)" fill="none" stroke-width="4.3" stroke-linecap="butt" stroke-linejoin="round">
<path d="M-33.47 16.05 L-51.68 30.32 A11.6 11.6 0 0 0 -68.16 43.23 L-99.5 67.77 A14.2 14.2 0 1 0 -89.63 80.37 L-55.54 53.67 A11.6 11.6 0 0 0 -39.06 40.76 L-22.35 27.66" stroke="#f39800" stroke-linejoin="miter"/>
<path d="M-33.47 16.05 L-14.17 0.94 A14.2 14.2 0 1 1 -4.3 13.53 L-22.35 27.66" stroke="#0000ff" stroke-linejoin="miter"/>
<line x1="14.4" y1="-0.2" x2="20.6" y2="-2.1" stroke="#231815" stroke-width="2.1"/>
<line x1="14.9" y1="7.3" x2="20.5" y2="12.5" stroke="#231815" stroke-width="2.1"/>
<line x1="11.1" y1="11.1" x2="16.3" y2="16.3" stroke="#231815" stroke-width="2.1"/>
<line x1="7.3" y1="14.4" x2="12.5" y2="20" stroke="#231815" stroke-width="2.1"/>
<path d="M-24 28.1 L-34 46.6 L-37 48.3 L-38.2 54.2 L-57.6 48 A12.5 12.5 0 1 0 -63.8 62.7 L-40.1 70.8 Q-24 70 -19.8 58 L-20.2 53.7 L-11.7 36.2" stroke="#009245" stroke-linejoin="miter"/>
</g>
<g transform="translate(993.75 250.6) scale(1)" fill="none" stroke-width="4.3" stroke-linecap="butt" stroke-linejoin="round">
<path d="M-33.47 16.05 L-51.68 30.32 A11.6 11.6 0 0 0 -68.16 43.23 L-99.5 67.77 A14.2 14.2 0 1 0 -89.63 80.37 L-55.54 53.67 A11.6 11.6 0 0 0 -39.06 40.76 L-22.35 27.66" stroke="#f39800" stroke-linejoin="miter"/>
<path d="M-33.47 16.05 L-14.17 0.94 A14.2 14.2 0 1 1 -4.3 13.53 L-22.35 27.66" stroke="#0000ff" stroke-linejoin="miter"/>
<line x1="14.4" y1="-0.2" x2="20.6" y2="-2.1" stroke="#231815" stroke-width="2.1"/>
<line x1="14.9" y1="7.3" x2="20.5" y2="12.5" stroke="#231815" stroke-width="2.1"/>
<line x1="11.1" y1="11.1" x2="16.3" y2="16.3" stroke="#231815" stroke-width="2.1"/>
<line x1="7.3" y1="14.4" x2="12.5" y2="20" stroke="#231815" stroke-width="2.1"/>
<path d="M-24 28.1 L-34 46.6 L-37 48.3 L-38.2 54.2 L-57.6 48 A12.5 12.5 0 1 0 -63.8 62.7 L-40.1 70.8 Q-24 70 -19.8 58 L-20.2 53.7 L-11.7 36.2" stroke="#009245" stroke-linejoin="miter"/>
</g>
<g transform="translate(734.4 493.75) scale(1)" fill="none" stroke-width="4.3" stroke-linecap="butt" stroke-linejoin="round">
<path d="M-33.47 16.05 L-51.68 30.32 A11.6 11.6 0 0 0 -68.16 43.23 L-99.5 67.77 A14.2 14.2 0 1 0 -89.63 80.37 L-55.54 53.67 A11.6 11.6 0 0 0 -39.06 40.76 L-22.35 27.66" stroke="#f39800" stroke-linejoin="miter"/>
<path d="M-33.47 16.05 L-14.17 0.94 A14.2 14.2 0 1 1 -4.3 13.53 L-22.35 27.66" stroke="#0000ff" stroke-linejoin="miter"/>
<line x1="18.84" y1="-5.05" x2="24.63" y2="-6.6" stroke="#231815" stroke-width="2.1"/>
<line x1="16.86" y1="3.89" x2="24.36" y2="5.62" stroke="#231815" stroke-width="2.1"/>
<line x1="14.83" y1="7.89" x2="22.07" y2="11.74" stroke="#231815" stroke-width="2.1"/>
<line x1="12.26" y1="11.04" x2="18.21" y2="16.39" stroke="#231815" stroke-width="2.1"/>
<path d="M-24 28.1 L-34 46.6 L-37 48.3 L-38.2 54.2 L-57.6 48 A12.5 12.5 0 1 0 -63.8 62.7 L-40.1 70.8 Q-24 70 -19.8 58 L-20.2 53.7 L-11.7 36.2" stroke="#39b54a" stroke-linejoin="miter"/>
</g>
<g transform="translate(1029.4 538.4) scale(1)" fill="none" stroke-width="4.3" stroke-linecap="butt" stroke-linejoin="round">
<path d="M-33.47 16.05 L-51.68 30.32 A11.6 11.6 0 0 0 -68.16 43.23 L-99.5 67.77 A14.2 14.2 0 1 0 -89.63 80.37 L-55.54 53.67 A11.6 11.6 0 0 0 -39.06 40.76 L-22.35 27.66" stroke="#f39800" stroke-linejoin="miter"/>
<path d="M-33.47 16.05 L-14.17 0.94 A14.2 14.2 0 1 1 -4.3 13.53 L-22.35 27.66" stroke="#0000ff" stroke-linejoin="miter"/>
<line x1="14.4" y1="-0.2" x2="20.6" y2="-2.1" stroke="#231815" stroke-width="2.1"/>
<line x1="14.9" y1="7.3" x2="20.5" y2="12.5" stroke="#231815" stroke-width="2.1"/>
<line x1="11.1" y1="11.1" x2="16.3" y2="16.3" stroke="#231815" stroke-width="2.1"/>
<line x1="7.3" y1="14.4" x2="12.5" y2="20" stroke="#231815" stroke-width="2.1"/>
<path d="M-24 28.1 L-34 46.6 L-37 48.3 L-38.2 54.2 L-57.6 48 A12.5 12.5 0 1 0 -63.8 62.7 L-40.1 70.8 Q-24 70 -19.8 58 L-20.2 53.7 L-11.7 36.2" stroke="#009245" stroke-linejoin="miter"/>
</g>
<path d="M 563.75 302.8 L 563.75 281.5 A9 9 0 0 1 571.5 265.8 L 594.3 245.98 A12.9 12.9 0 1 1 604.92 258.5 L 578.75 281.25 L 578.75 301.5" fill="none" stroke="#00a0e9" stroke-width="4.3" stroke-linecap="butt" stroke-linejoin="miter" />
<path d="M 548 307.3 L 564.14 336.41 A12.6 12.6 0 1 0 579.37 330.98 L 563.75 302.8" fill="none" stroke="#ff00ff" stroke-width="4.3" stroke-linecap="butt" stroke-linejoin="round" />
<path d="M 788.1 163.1 L 768.3 160.3 L 777.48 130.26 A12.5 12.5 0 1 0 762.56 126.38 L 751.08 163.91 A12.2 12.2 0 1 0 762.78 175.46 L 782.5 177.6" fill="none" stroke="#00a0e9" stroke-width="4.3" stroke-linecap="butt" stroke-linejoin="miter" />
<path d="M 782.5 177.6 L 810.12 184.74 A12.2 12.2 0 1 1 807.56 199.59 L 775.9 191.4" fill="none" stroke="#ff00ff" stroke-width="4.3" stroke-linecap="butt" stroke-linejoin="round" />
<path d="M775.9 191.4 C774.17 190.45 768.02 187.38 765.5 185.7 C762.98 184.02 762.72 182.15 760.8 181.3 C758.88 180.45 755.73 179.9 754 180.6 C752.27 181.3 750.22 183.55 750.4 185.5 C750.58 187.45 752.43 190.22 755.1 192.3 C757.77 194.38 762 196.58 766.4 198 C770.8 199.42 777.57 199.38 781.5 200.8 C785.43 202.22 788.12 204.63 790 206.5 C791.88 208.37 792.33 211.08 792.8 212" fill="none" stroke="#fff100" stroke-width="3.04" stroke-linecap="butt" stroke-linejoin="round" />
<path d="M792.5 211.5 C793.13 213.33 796.22 218.5 796.3 222.5 C796.38 226.5 795.55 232 793 235.5 C790.45 239 786.17 241.53 781 243.5 C775.83 245.47 767.43 247 762 247.3 C756.57 247.6 750.67 245.63 748.4 245.3" fill="none" stroke="#fff100" stroke-width="3.04" stroke-linecap="butt" stroke-linejoin="round" />
<rect x="740.4" y="169.3" width="34" height="24.9" fill="none" stroke="#e60012" stroke-width="1.3" stroke-dasharray="4 2.6"/>
<path d="M 1012.5 187.2 L 990.5 183.8 L 999.75 150.44 A13.2 13.2 0 1 0 985.34 144.32 L 972.91 189.16 A12.6 12.6 0 1 0 984.28 201.04 L 1007.5 203.5" fill="none" stroke="#00a0e9" stroke-width="4.3" stroke-linecap="butt" stroke-linejoin="miter" />
<path d="M 1012.2 187.2 L 1052.6 187.2 L 1052.6 145.93 A13.2 13.2 0 1 1 1067.4 145.93 L 1067.4 189.35" fill="none" stroke="#231815" stroke-width="4.3" stroke-linecap="butt" stroke-linejoin="miter" />
<path d="M 1065.3 187.2 L 1104 187.2" fill="none" stroke="#e60012" stroke-width="4.3" stroke-linecap="butt" stroke-linejoin="round" />
<path d="M 1103.8 187.2 L 1135.5 187.2" fill="none" stroke="#231815" stroke-width="4.3" stroke-linecap="butt" stroke-linejoin="round" />
<path d="M 1007.5 203.5 L 1039.71 211.41 A12.9 12.9 0 1 1 1036.28 226.69 L 1000.9 218" fill="none" stroke="#ff00ff" stroke-width="4.3" stroke-linecap="butt" stroke-linejoin="round" />
<path d="M1000.9 218 C999.02 217 992.43 213.75 989.6 212 C986.77 210.25 986.07 208.28 983.9 207.5 C981.73 206.72 978.45 206.38 976.6 207.3 C974.75 208.22 972.52 210.65 972.8 213 C973.08 215.35 974.88 218.9 978.3 221.4 C981.72 223.9 987.97 226.4 993.3 228 C998.63 229.6 1006.27 229.67 1010.3 231 C1014.33 232.33 1015.88 234.17 1017.5 236 C1019.12 237.83 1019.58 241 1020 242" fill="none" stroke="#fff100" stroke-width="3.2" stroke-linecap="butt" stroke-linejoin="round" />
<path d="M1019.8 241.5 C1020.3 243.5 1023.1 249.08 1022.8 253.5 C1022.5 257.92 1021.63 264 1018 268 C1014.37 272 1006.67 275.5 1001 277.5 C995.33 279.5 989.23 279.78 984 280 C978.77 280.22 972 279 969.6 278.8" fill="none" stroke="#fff100" stroke-width="3.2" stroke-linecap="butt" stroke-linejoin="round" />
<path d="M 753.1 446.3 L 734.3 441.5 L 741.63 414.13 A12.5 12.5 0 1 0 728.29 409.07 L 717.94 447.67 A12 12 0 1 0 727.33 458.15 L 747.8 461.6" fill="none" stroke="#00a0e9" stroke-width="4.3" stroke-linecap="butt" stroke-linejoin="miter" />
<circle cx="714.5" cy="459.8" r="8" fill="#f39800"/>
<path d="M 770 451.5 L 786 445.5" fill="none" stroke="#fff100" stroke-width="3.2" stroke-linecap="butt" stroke-linejoin="round" />
<path d="M747.2 462.2 C748.17 461.17 750.87 457.6 753 456 C755.13 454.4 756.33 453.47 760 452.6 C763.67 451.73 771 451.57 775 450.8 C779 450.03 781.75 449.6 784 448 C786.25 446.4 787.75 442.33 788.5 441.2" fill="none" stroke="#231815" stroke-width="3.8" stroke-linecap="round" stroke-linejoin="round" />
<path d="M 788.9 445.3 L 822.12 440.33 A12.8 12.8 0 1 1 821.94 455.61 L 789.9 460.4" fill="none" stroke="#ff00ff" stroke-width="4.3" stroke-linecap="butt" stroke-linejoin="round" />
<path d="M790.5 460 C790.08 461.33 789.98 465.58 788 468 C786.02 470.42 782.27 472.67 778.6 474.5 C774.93 476.33 769.02 477.42 766 479 C762.98 480.58 761.55 482.67 760.5 484 C759.45 485.33 759.83 486.5 759.7 487" fill="none" stroke="#fff100" stroke-width="3.2" stroke-linecap="butt" stroke-linejoin="round" />
<path d="M759.9 486.2 C760.42 488.33 764.15 494.62 763 499 C761.85 503.38 757.67 509 753 512.5 C748.33 516 740.5 518.42 735 520 C729.5 521.58 724.1 521.77 720 522 C715.9 522.23 712 521.5 710.4 521.4" fill="none" stroke="#fff100" stroke-width="3.2" stroke-linecap="butt" stroke-linejoin="round" />
<path d="M 1060.2 365.5 L 1060.2 473.8 L 1009.5 473.8 C 990 474.5 989 502 1007.5 502.5 C 1016 502.5 1021 496 1021 488.5 L 1043.2 491.8" fill="none" stroke="#00a0e9" stroke-width="4.3" stroke-linecap="butt" stroke-linejoin="miter" />
<circle cx="1008" cy="488.5" r="8" fill="#f39800"/>
<path d="M 1060.2 366 L 1060.2 327.68 A13.7 13.7 0 1 1 1075.6 327.48 L 1075.6 380.7" fill="none" stroke="#231815" stroke-width="4.3" stroke-linecap="butt" stroke-linejoin="round" />
<path d="M 1075.6 380.3 L 1075.6 434" fill="none" stroke="#e60012" stroke-width="4.3" stroke-linecap="butt" stroke-linejoin="round" />
<path d="M 1075.6 433.6 L 1075.6 475.3 L 1107.8 475.3" fill="none" stroke="#231815" stroke-width="4.3" stroke-linecap="butt" stroke-linejoin="miter" />
<path d="M 1043 491.7 L 1074.69 499.6 A13 13 0 1 1 1071.29 515.25 L 1040.6 507.6" fill="none" stroke="#ff00ff" stroke-width="4.3" stroke-linecap="butt" stroke-linejoin="round" />
<path d="M1041.5 508 C1041.03 507.45 1039.75 505.15 1038.7 504.7 C1037.65 504.25 1035.92 504.32 1035.2 505.3 C1034.48 506.28 1033.67 508.62 1034.4 510.6 C1035.13 512.58 1037.17 515.17 1039.6 517.2 C1042.03 519.23 1046.63 520.77 1049 522.8 C1051.37 524.83 1053 528.3 1053.8 529.4" fill="none" stroke="#fff100" stroke-width="3.2" stroke-linecap="butt" stroke-linejoin="round" />
<path d="M1053.8 529 C1054.42 530.5 1057.35 534.33 1057.5 538 C1057.65 541.67 1056.73 547.1 1054.7 551 C1052.67 554.9 1050.02 558.57 1045.3 561.4 C1040.58 564.23 1033.05 567 1026.4 568 C1019.75 569 1008.9 567.5 1005.4 567.4" fill="none" stroke="#fff100" stroke-width="3.2" stroke-linecap="butt" stroke-linejoin="round" />
<defs><radialGradient id="rg1" cx="50%" cy="58%" r="55%"><stop offset="0" stop-color="#f4fbf5"/><stop offset="0.45" stop-color="#b5e0bc"/><stop offset="1" stop-color="#82c98f"/></radialGradient>
<radialGradient id="rb1" cx="50%" cy="45%" r="55%"><stop offset="0" stop-color="#fbfbff"/><stop offset="0.45" stop-color="#b4bdf4"/><stop offset="1" stop-color="#7785e8"/></radialGradient></defs>
<path d="M1088.07 266.88 C1087.94 264.99 1087.68 260.47 1089.17 257.46 C1090.66 254.45 1093.67 250.87 1097.02 248.82 C1100.37 246.78 1105.6 245.34 1109.26 245.21 C1112.93 245.08 1116.46 246.26 1119 248.04 C1121.54 249.82 1123.24 253.27 1124.49 255.89 C1125.75 258.51 1126.4 261.78 1126.53 263.74 C1126.66 265.7 1126.14 266.88 1125.28 267.66 C1124.41 268.45 1123.45 268.53 1121.35 268.45 C1119.26 268.37 1115.46 267.51 1112.72 267.19 C1109.97 266.88 1107.09 266.56 1104.87 266.56 C1102.64 266.56 1101.07 266.75 1099.37 267.19 C1097.67 267.64 1096.23 268.97 1094.66 269.23 C1093.09 269.49 1091.05 269.15 1089.95 268.76 C1088.86 268.37 1088.2 268.76 1088.07 266.88Z" fill="url(#rg1)"/>
<path d="M1088.86 275.51 C1089.12 274.47 1089.38 273.42 1090.74 272.37 C1092.1 271.33 1094.93 270.2 1097.02 269.23 C1099.11 268.26 1100.94 266.83 1103.3 266.56 C1105.65 266.3 1108.53 267.22 1111.15 267.66 C1113.76 268.11 1116.85 268.71 1119 269.23 C1121.14 269.76 1123.03 269.76 1124.02 270.8 C1125.01 271.85 1125.15 273.94 1124.96 275.51 C1124.78 277.08 1124.05 279.25 1122.92 280.22 C1121.8 281.19 1120.17 281.4 1118.21 281.32 C1116.25 281.24 1113.37 280.2 1111.15 279.75 C1108.92 279.31 1106.96 278.57 1104.87 278.65 C1102.78 278.73 1100.68 279.83 1098.59 280.22 C1096.5 280.61 1093.88 281.27 1092.31 281.01 C1090.74 280.75 1089.75 279.57 1089.17 278.65 C1088.59 277.74 1088.59 276.56 1088.86 275.51Z" fill="url(#rb1)"/>
<defs><radialGradient id="rg2" cx="50%" cy="58%" r="55%"><stop offset="0" stop-color="#f4fbf5"/><stop offset="0.45" stop-color="#b5e0bc"/><stop offset="1" stop-color="#82c98f"/></radialGradient>
<radialGradient id="rb2" cx="50%" cy="45%" r="55%"><stop offset="0" stop-color="#fbfbff"/><stop offset="0.45" stop-color="#b4bdf4"/><stop offset="1" stop-color="#7785e8"/></radialGradient></defs>
<path d="M1096.87 409.78 C1096.74 407.89 1096.48 403.37 1097.97 400.36 C1099.46 397.35 1102.47 393.77 1105.82 391.72 C1109.17 389.68 1114.4 388.24 1118.06 388.11 C1121.73 387.98 1125.26 389.16 1127.8 390.94 C1130.34 392.72 1132.04 396.17 1133.29 398.79 C1134.55 401.41 1135.2 404.68 1135.33 406.64 C1135.46 408.6 1134.94 409.78 1134.08 410.56 C1133.21 411.35 1132.25 411.43 1130.15 411.35 C1128.06 411.27 1124.26 410.41 1121.52 410.09 C1118.77 409.78 1115.89 409.46 1113.67 409.46 C1111.44 409.46 1109.87 409.65 1108.17 410.09 C1106.47 410.54 1105.03 411.87 1103.46 412.13 C1101.89 412.39 1099.85 412.05 1098.75 411.66 C1097.66 411.27 1097 411.66 1096.87 409.78Z" fill="url(#rg2)"/>
<path d="M1097.66 418.41 C1097.92 417.37 1098.18 416.32 1099.54 415.27 C1100.9 414.23 1103.73 413.1 1105.82 412.13 C1107.91 411.16 1109.74 409.73 1112.1 409.46 C1114.45 409.2 1117.33 410.12 1119.95 410.56 C1122.56 411.01 1125.65 411.61 1127.8 412.13 C1129.94 412.66 1131.83 412.66 1132.82 413.7 C1133.81 414.75 1133.95 416.84 1133.76 418.41 C1133.58 419.98 1132.85 422.15 1131.72 423.12 C1130.6 424.09 1128.97 424.3 1127.01 424.22 C1125.05 424.14 1122.17 423.1 1119.95 422.65 C1117.72 422.21 1115.76 421.47 1113.67 421.55 C1111.58 421.63 1109.48 422.73 1107.39 423.12 C1105.3 423.51 1102.68 424.17 1101.11 423.91 C1099.54 423.65 1098.55 422.47 1097.97 421.55 C1097.39 420.64 1097.39 419.46 1097.66 418.41Z" fill="url(#rb2)"/>
<path d="M59.4 344.5 C60.17 345.92 61.23 350.65 64 353 C66.77 355.35 72.17 358.18 76 358.6 C79.83 359.02 84.17 356.85 87 355.5 C89.83 354.15 92 351.33 93 350.5" fill="none" stroke="#231815" stroke-width="2.3" stroke-dasharray="4.2 3.2"/>
<polygon points="58.21 342.3 57.45 349.31 59.92 345.47 64.49 345.5" fill="#231815"/>
<polygon points="94.92 348.9 87.9 349.54 92.15 351.2 93.03 355.69" fill="#231815"/>
<path d="M498.3 265.5 C498.97 263.5 499.77 256.7 502.3 253.5 C504.83 250.3 509.88 247.33 513.5 246.3 C517.12 245.27 521.42 246.52 524 247.3 C526.58 248.08 528.17 250.38 529 251" fill="none" stroke="#231815" stroke-width="2.3" stroke-dasharray="4.2 3.2"/>
<polygon points="497.51 267.87 503.14 263.63 498.65 264.46 495.55 261.1" fill="#231815"/>
<polygon points="531.01 252.49 528.73 245.82 528.12 250.35 523.97 252.25" fill="#231815"/>
<path d="M516 303.8 C518 303.77 524.25 302.73 528 303.6 C531.75 304.47 535.92 305.35 538.5 309 C541.08 312.65 542.67 322.75 543.5 325.5" fill="none" stroke="#231815" stroke-width="2.3" stroke-dasharray="4.2 3.2"/>
<polygon points="513.5 303.84 519.37 307.74 517.1 303.78 519.23 299.75" fill="#231815"/>
<polygon points="544.23 327.89 546.37 321.18 543.18 324.45 538.71 323.5" fill="#231815"/>
<path d="M1104.5 238.7 C1105.13 236.25 1108.22 229.03 1108.3 224 C1108.38 218.97 1107.22 212.83 1105 208.5 C1102.78 204.17 1096.67 199.75 1095 198" fill="none" stroke="#231815" stroke-width="2.3" stroke-dasharray="4.2 3.2"/>
<polygon points="1093.28 196.19 1094.38 203.15 1095.76 198.8 1100.17 197.63" fill="#231815"/>
<path d="M683 447 C683.25 445.42 683.17 440.37 684.5 437.5 C685.83 434.63 688.42 431.55 691 429.8 C693.58 428.05 697 427.25 700 427 C703 426.75 706.73 427.63 709 428.3 C711.27 428.97 712.83 430.55 713.6 431" fill="none" stroke="#231815" stroke-width="2.3" stroke-dasharray="4.2 3.2"/>
<polygon points="682.61 449.47 687.47 444.36 683.17 445.91 679.56 443.12" fill="#231815"/>
<polygon points="715.76 432.27 712.78 425.88 712.65 430.44 708.73 432.78" fill="#231815"/>
<path d="M757.5 470.5 C759.08 470.58 764 469.92 767 471 C770 472.08 773.5 474.17 775.5 477 C777.5 479.83 778.55 484.5 779 488 C779.45 491.5 778.33 496.33 778.2 498" fill="none" stroke="#231815" stroke-width="2.3" stroke-dasharray="4.2 3.2"/>
<polygon points="755 470.37 760.59 474.67 758.6 470.56 761.01 466.68" fill="#231815"/>
<polygon points="778 500.49 782.45 495.03 778.29 496.9 774.48 494.39" fill="#231815"/>
<path d="M840.5 420 C842.08 420.17 847 419.67 850 421 C853 422.33 856.62 425.17 858.5 428 C860.38 430.83 861.13 434.75 861.3 438 C861.47 441.25 859.8 445.92 859.5 447.5" fill="none" stroke="#231815" stroke-width="2.3" stroke-dasharray="4.2 3.2"/>
<polygon points="838.01 419.74 843.36 424.32 841.59 420.12 844.2 416.37" fill="#231815"/>
<polygon points="859.03 449.96 864.04 445 859.7 446.42 856.18 443.51" fill="#231815"/>
<path d="M1109.5 434.3 C1107.25 434.83 1099.53 435.55 1096 437.5 C1092.47 439.45 1090.1 443 1088.3 446 C1086.5 449 1085.72 453.92 1085.2 455.5" fill="none" stroke="#231815" stroke-width="2.3" stroke-dasharray="4.2 3.2"/>
<polygon points="1084.42 457.88 1090.03 453.6 1085.54 454.45 1082.42 451.12" fill="#231815"/>
<path d="M1087.5 433.8 L1098 444.3 M1098.3 434.3 L1087 443.6" stroke="#e60012" stroke-width="3.8" fill="none"/>
<line x1="162.2" y1="334.25" x2="215.27" y2="334.25" stroke="#231815" stroke-width="3.2"/>
<polyline points="209.27 329.45 216.27 334.25 209.27 339.05" fill="none" stroke="#231815" stroke-width="3.2" stroke-linejoin="miter" stroke-miterlimit="10"/>
<line x1="347" y1="333.5" x2="400.07" y2="333.5" stroke="#231815" stroke-width="3.2"/>
<polyline points="394.07 328.7 401.07 333.5 394.07 338.3" fill="none" stroke="#231815" stroke-width="3.2" stroke-linejoin="miter" stroke-miterlimit="10"/>
<line x1="817" y1="238" x2="869.17" y2="238" stroke="#231815" stroke-width="3.2"/>
<polyline points="863.17 233.2 870.17 238 863.17 242.8" fill="none" stroke="#231815" stroke-width="3.2" stroke-linejoin="miter" stroke-miterlimit="10"/>
<line x1="837" y1="491.5" x2="889.17" y2="491.5" stroke="#231815" stroke-width="3.2"/>
<polyline points="883.17 486.7 890.17 491.5 883.17 496.3" fill="none" stroke="#231815" stroke-width="3.2" stroke-linejoin="miter" stroke-miterlimit="10"/>
<line x1="606.5" y1="307.5" x2="642.74" y2="272.65" stroke="#231815" stroke-width="3.2"/>
<polyline points="635.09 273.35 643.46 271.96 641.74 280.27" fill="none" stroke="#231815" stroke-width="3.2" stroke-linejoin="miter" stroke-miterlimit="10"/>
<line x1="606.5" y1="385" x2="642.79" y2="421.29" stroke="#231815" stroke-width="3.2"/>
<polyline points="641.94 413.66 643.5 422 635.16 420.44" fill="none" stroke="#231815" stroke-width="3.2" stroke-linejoin="miter" stroke-miterlimit="10"/>
<line x1="637.5" y1="293.5" x2="625.67" y2="305.33" stroke="#898989" stroke-width="2.8"/>
<polyline points="632.96 304.83 624.97 306.03 626.17 298.04" fill="none" stroke="#898989" stroke-width="2.8" stroke-linejoin="miter" stroke-miterlimit="10"/>
<line x1="625" y1="423.8" x2="603.16" y2="401.69" stroke="#898989" stroke-width="2.8"/>
<polyline points="603.61 408.97 602.46 400.98 610.44 402.23" fill="none" stroke="#898989" stroke-width="2.8" stroke-linejoin="miter" stroke-miterlimit="10"/>
<line x1="273.75" y1="211" x2="273.75" y2="246.6" stroke="#000" stroke-width="2.6"/>
<polyline points="278.25 240.6 273.75 247.6 269.25 240.6" fill="none" stroke="#000" stroke-width="2.6" stroke-linejoin="miter" stroke-miterlimit="10"/>
<line x1="285" y1="239" x2="285" y2="224.22" stroke="#000" stroke-width="3"/>
<polyline points="280.4 228.22 285 223.22 289.6 228.22" fill="none" stroke="#000" stroke-width="3" stroke-linejoin="miter" stroke-miterlimit="10"/>
<text x="12.8" y="257.7" font-size="18" fill="#0000ff" font-weight="bold" font-style="normal" text-anchor="start" >Stem IIA/B</text>
<text x="12" y="297.5" font-size="14" fill="#000" font-weight="normal" font-style="normal" text-anchor="start" >Open</text>
<text x="13.75" y="404.25" font-size="14" fill="#000" font-weight="normal" font-style="normal" text-anchor="start" >Closed</text>
<text x="236.25" y="409.25" font-size="14" fill="#000" font-weight="normal" font-style="normal" text-anchor="start" >Closed</text>
<text x="104.4" y="277.6" font-size="16" fill="#000" font-weight="normal" font-style="normal" text-anchor="start" >5’</text>
<text x="159.5" y="250.5" font-size="16" fill="#000" font-weight="normal" font-style="normal" text-anchor="start" >3’</text>
<text x="167.6" y="390.6" font-size="16" fill="#000" font-weight="normal" font-style="normal" text-anchor="start" >3’</text>
<text x="122.2" y="437.4" font-size="16" fill="#000" font-weight="normal" font-style="normal" text-anchor="start" >5’</text>
<text x="351" y="317" font-size="16" fill="#000" font-weight="normal" font-style="normal" text-anchor="start" >3’</text>
<text x="306.5" y="362.5" font-size="16" fill="#000" font-weight="normal" font-style="normal" text-anchor="start" >5’</text>
<text x="494" y="382" font-size="16" fill="#000" font-weight="normal" font-style="normal" text-anchor="start" >5’</text>
<text x="584.5" y="310.5" font-size="16" fill="#000" font-weight="normal" font-style="normal" text-anchor="start" >3’</text>
<text x="791" y="167.8" font-size="16" fill="#000" font-weight="normal" font-style="normal" text-anchor="start" >3’</text>
<text x="764" y="264.5" font-size="16" fill="#000" font-weight="normal" font-style="normal" text-anchor="start" >5’</text>
<text x="986.5" y="299.5" font-size="16" fill="#000" font-weight="normal" font-style="normal" text-anchor="start" >5’</text>
<text x="727" y="543" font-size="16" fill="#000" font-weight="normal" font-style="normal" text-anchor="start" >5’</text>
<text x="1022" y="587" font-size="16" fill="#000" font-weight="normal" font-style="normal" text-anchor="start" >5’</text>
<text x="224.25" y="116.25" font-size="18" fill="#000" font-weight="bold" font-style="normal" text-anchor="start" >tRNA/<tspan fill="#f39800">aa-tRNA</tspan></text>
<text x="508.25" y="215.5" font-size="18" fill="#898989" font-weight="bold" font-style="normal" text-anchor="start" >Uncharged tRNA</text>
<text x="628.75" y="128" font-size="18" fill="#00a0e9" font-weight="bold" font-style="normal" text-anchor="start" >AntiS (Stable)</text>
<text x="976.25" y="115.5" font-size="18" fill="#00a0e9" font-weight="bold" font-style="normal" text-anchor="start" >AntiS</text>
<text x="1073.6" y="181" font-size="22" fill="#e60012" font-weight="bold" font-style="normal" text-anchor="start" >SD</text>
<text x="1137.3" y="192.4" font-size="16" fill="#ff00ff" font-weight="bold" font-style="normal" text-anchor="start" >GUG</text>
<text x="1108.6" y="478.6" font-size="16" fill="#ff00ff" font-weight="bold" font-style="normal" text-anchor="start" >GUG</text>
<text x="1178.9" y="155.2" font-size="24" fill="#009245" font-weight="bold" font-style="italic" text-anchor="start" >ON</text>
<text x="1178.75" y="431.25" font-size="24" fill="#ff0000" font-weight="bold" font-style="italic" text-anchor="start" >OFF</text>
<text x="1120" y="240.5" font-size="16" fill="#000" font-weight="bold" font-style="normal" text-anchor="start" >Ribosome</text>
<text x="618" y="267" font-size="20" fill="#000" font-weight="normal" font-style="normal" text-anchor="start" >1.1 s<tspan font-size="11.5" dy="-7.5">-1</tspan></text>
<text x="605" y="329.5" font-size="20" fill="#898989" font-weight="normal" font-style="normal" text-anchor="start" >0.27 s<tspan font-size="11.5" dy="-7.5">-1</tspan></text>
<text x="625.3" y="396.8" font-size="20" fill="#000" font-weight="normal" font-style="normal" text-anchor="start" >1.6 s<tspan font-size="11.5" dy="-7.5">-1</tspan></text>
<text x="567" y="444" font-size="20" fill="#898989" font-weight="normal" font-style="normal" text-anchor="start" >0.82 s<tspan font-size="11.5" dy="-7.5">-1</tspan></text>
<text x="697" y="371" font-size="18" fill="#00a0e9" font-weight="bold" font-style="normal" text-anchor="start" >AntiS (Labile)</text>
<text x="515" y="491.25" font-size="18" fill="#f39800" font-weight="bold" font-style="normal" text-anchor="start" >Charged tRNA</text>
<text x="865.5" y="515.5" font-size="18" fill="#000" font-weight="normal" font-style="normal" text-anchor="middle" >Structural</text>
<text x="865.5" y="534" font-size="18" fill="#000" font-weight="normal" font-style="normal" text-anchor="middle" >rearrangement</text>
<text x="942.5" y="404.5" font-size="18" fill="#00a0e9" font-weight="bold" font-style="normal" text-anchor="start" >Seque<tspan fill="#231815">strator</tspan></text>
</svg></body></html>
